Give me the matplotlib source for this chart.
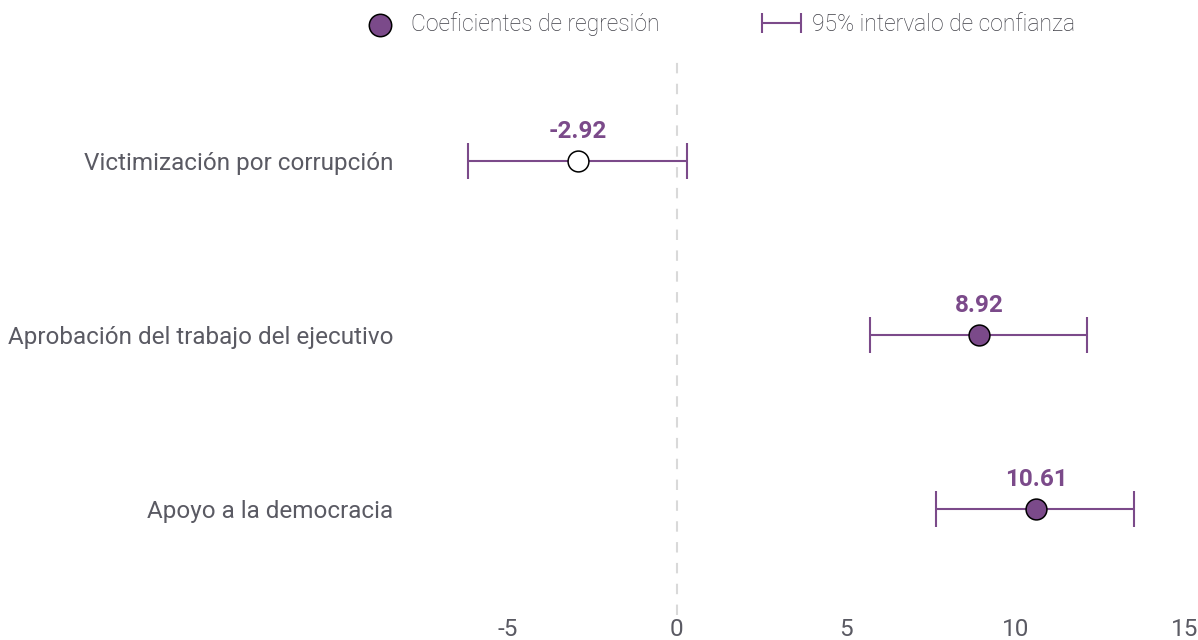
import numpy as np
import matplotlib.pyplot as plt
from matplotlib.legend_handler import HandlerErrorbar

plt.rcParams['font.family'] = ['Roboto', 'DejaVu Sans']

# DATA
labels = ['Victimización por corrupción',
          'Aprobación del trabajo del ejecutivo',
          'Apoyo a la democracia']
coef = [-2.92, 8.92, 10.61]
ci_low = [-6.15, 5.70, 7.65]
ci_high = [0.30, 12.10, 13.50]
significant = [False, True, True]
xticks = [-5, 0, 5, 10, 15]

purple = '#7b4a8a'
grey = '#5a5a63'

fig = plt.figure(figsize=(11.98, 6.40), dpi=100)
ax = fig.add_axes([400 / 1198, 25 / 640, 785 / 1198, 560 / 640])

y = np.arange(len(labels))
ax.axvline(0, color='#d9d9d9', lw=1.5, ls=(0, (5, 5)), zorder=0)

for i in range(len(labels)):
    ax.errorbar(coef[i], y[i],
                xerr=[[coef[i] - ci_low[i]], [ci_high[i] - coef[i]]],
                fmt='none', ecolor=purple, elinewidth=1.5, capsize=13,
                capthick=1.5, zorder=2)
    ax.plot(coef[i], y[i], 'o', ms=15, mec='black', mew=1.1,
            mfc=purple if significant[i] else 'white', zorder=3)
    ax.text(coef[i], y[i] - 0.17, f'{coef[i]:.2f}', ha='center', va='center',
            fontsize=17.5, fontweight='bold', color=purple)

ax.set_xlim(-8.17, 15)
ax.set_ylim(2.609, -0.609)
ax.set_xticks(xticks)
ax.set_xticklabels([str(t) for t in xticks])
ax.set_yticks(y)
ax.set_yticklabels(labels)
ax.tick_params(axis='both', length=0, labelsize=17.5, colors=grey)
ax.tick_params(axis='y', pad=5)
ax.tick_params(axis='x', pad=2)
for s in ax.spines.values():
    s.set_visible(False)

# legend
dot = ax.scatter([], [], s=260, c=purple, edgecolors='black', linewidths=1.1)
eb_leg = ax.errorbar([np.nan], [np.nan], xerr=[1], fmt='none', ecolor=purple,
                     elinewidth=1.5, capsize=7, capthick=1.5)
leg = fig.legend([dot, eb_leg], ['Coeficientes de regresión', '95% intervalo de confianza'],
                 loc='upper center', bbox_to_anchor=(0.599, 1.013), ncol=2, frameon=False,
                 handlelength=1.8, columnspacing=4.4, handletextpad=0.45,
                 handler_map={type(eb_leg): HandlerErrorbar(xerr_size=0.85)},
                 prop={'weight': 'light', 'size': 16.5})
for t in leg.get_texts():
    t.set_color('#3e3e46')

fig.savefig('out.png', dpi=100)
